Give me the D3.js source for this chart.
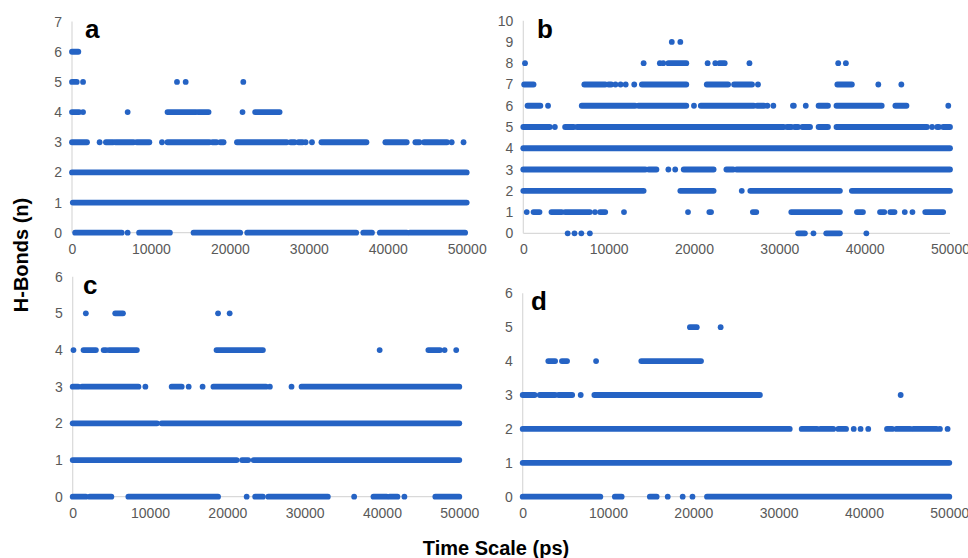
<!DOCTYPE html>
<html>
<head>
<meta charset="utf-8">
<script src="https://cdn.jsdelivr.net/npm/d3@7/dist/d3.min.js"></script>
<style>
  html, body { margin: 0; padding: 0; background: #fff; }
  svg { display: block; }
</style>
</head>
<body>
<svg id="chart" width="968" height="558"></svg>
<script>
// ---------------- DATA ----------------
// Each entry: [H-bond count, run start (ps), run end (ps)]; start == end is a single frame.
const xTicks = [0, 10000, 20000, 30000, 40000, 50000];
const yTicksA = [0, 1, 2, 3, 4, 5, 6, 7];
const yTicksB = [0, 1, 2, 3, 4, 5, 6, 7, 8, 9, 10];
const yTicksC = [0, 1, 2, 3, 4, 5, 6];
const yTicksD = [0, 1, 2, 3, 4, 5, 6];
const panelLabels = ["a", "b", "c", "d"];

const runsA = [
  [6, 0, 800],
  [5, 0, 600], [5, 1400, 1400], [5, 13300, 13300], [5, 14400, 14400], [5, 21700, 21700],
  [4, 0, 900], [4, 1400, 1400], [4, 7050, 7050], [4, 12100, 15700], [4, 16000, 17300],
  [4, 21600, 21600], [4, 23200, 26300],
  [3, 0, 1900], [3, 3500, 3500], [3, 4300, 5200], [3, 5500, 7800], [3, 8200, 9800],
  [3, 11400, 11400], [3, 12100, 17400], [3, 17800, 18300], [3, 18800, 19200],
  [3, 20900, 27200], [3, 27700, 28200], [3, 28700, 29200], [3, 29600, 29600], [3, 30400, 30400],
  [3, 31600, 37300], [3, 39700, 42400], [3, 43500, 44000], [3, 44600, 47500],
  [3, 48100, 48100], [3, 49600, 49600],
  [2, 0, 50000],
  [1, 100, 50000],
  [0, 400, 6300], [0, 7050, 7050], [0, 8500, 12400], [0, 15400, 21300], [0, 22200, 36000],
  [0, 36900, 38000], [0, 39000, 42400], [0, 42800, 49800]
];

const runsB = [
  [9, 17400, 17400], [9, 18400, 18400],
  [8, 200, 200], [8, 14100, 14100], [8, 16000, 16000], [8, 16400, 16400], [8, 17000, 19100],
  [8, 21600, 21600], [8, 22500, 22500], [8, 23000, 23600], [8, 26500, 26500],
  [8, 36900, 36900], [8, 37800, 37800],
  [7, 100, 1200], [7, 7150, 9600], [7, 10000, 10300], [7, 10800, 10800], [7, 11400, 11400],
  [7, 12000, 12000], [7, 13000, 13000], [7, 13900, 19100], [7, 21500, 24000],
  [7, 24700, 26800], [7, 27500, 27500], [7, 36800, 38500], [7, 41600, 41600], [7, 44300, 44300],
  [6, 500, 2000], [6, 2900, 2900], [6, 6850, 13100], [6, 13500, 19100], [6, 20000, 20000],
  [6, 20800, 27000], [6, 27400, 28200], [6, 28600, 28600], [6, 29300, 29300],
  [6, 31600, 31700], [6, 33100, 33100], [6, 34600, 35700], [6, 36700, 42000],
  [6, 43600, 44900], [6, 49800, 49800],
  [5, 0, 3100], [5, 3700, 3700], [5, 4900, 5900], [5, 6300, 30500], [5, 30900, 31400],
  [5, 31800, 32200], [5, 32700, 33600], [5, 34600, 35700], [5, 36700, 47300],
  [5, 47900, 47900], [5, 48500, 48700], [5, 49200, 50000],
  [4, 0, 50000],
  [3, 0, 14300], [3, 14700, 15600], [3, 17000, 17000], [3, 17800, 17800], [3, 18800, 22300],
  [3, 23800, 24600], [3, 25000, 50000],
  [2, 0, 14100], [2, 18400, 22300], [2, 25600, 25600], [2, 26600, 37100], [2, 38500, 50000],
  [1, 400, 400], [1, 1200, 1900], [1, 3300, 4500], [1, 4900, 7800], [1, 8400, 8400],
  [1, 9000, 9600], [1, 11800, 11800], [1, 19300, 19300], [1, 21800, 22000],
  [1, 26900, 27300], [1, 31400, 37100], [1, 39100, 39800], [1, 41800, 42300],
  [1, 43000, 43500], [1, 44700, 44700], [1, 45600, 45600], [1, 47100, 49200],
  [0, 5200, 5200], [0, 6000, 6000], [0, 6800, 6800], [0, 7800, 7800],
  [0, 32200, 33000], [0, 34000, 34000], [0, 35500, 37100], [0, 40200, 40200]
];

const runsC = [
  [5, 1700, 1700], [5, 5500, 6500], [5, 18800, 18800], [5, 20300, 20300],
  [4, 100, 100], [4, 1400, 3000], [4, 4000, 4300], [4, 4700, 8300], [4, 18600, 24600],
  [4, 39700, 39700], [4, 46000, 47500], [4, 48100, 48100], [4, 49600, 49600],
  [3, 0, 700], [3, 1200, 8500], [3, 9400, 9400], [3, 12800, 14100], [3, 15000, 15000],
  [3, 16800, 16800], [3, 18200, 25000], [3, 25500, 25500], [3, 28300, 28300], [3, 29600, 50000],
  [2, 0, 10900], [2, 11500, 50000],
  [1, 0, 21200], [1, 21900, 22700], [1, 23400, 50000],
  [0, 0, 1700], [0, 2200, 5000], [0, 7200, 18800], [0, 22500, 22500], [0, 23600, 24600],
  [0, 25300, 33000], [0, 36400, 36400], [0, 38900, 40600], [0, 41000, 42000],
  [0, 42900, 42900], [0, 46900, 50000]
];

const runsD = [
  [5, 19600, 20400], [5, 23200, 23200],
  [4, 3000, 3800], [4, 4600, 5200], [4, 8600, 8600], [4, 13900, 20900],
  [3, 0, 1400], [3, 2000, 3800], [3, 4200, 5800], [3, 6800, 6800], [3, 8400, 27800],
  [3, 44300, 44300],
  [2, 0, 31300], [2, 32700, 34500], [2, 34900, 36400], [2, 37000, 37900], [2, 38800, 38800],
  [2, 39600, 39600], [2, 40500, 40500], [2, 42700, 43300], [2, 43800, 45400],
  [2, 45800, 48500], [2, 48900, 48900], [2, 49800, 49800],
  [1, 0, 50000],
  [0, 0, 9100], [0, 10800, 11600], [0, 14900, 15700], [0, 17000, 17000], [0, 18750, 18750],
  [0, 19900, 19900], [0, 21600, 50000]
];

// ---------------- LAYOUT ----------------
const panels = [
  { runs: runsA, yTicks: yTicksA, yMax: 7,  left: 72,    right: 466.7, top: 21.6,  bottom: 232.7, lx: 85,  ly: 38 },
  { runs: runsB, yTicks: yTicksB, yMax: 10, left: 523.3, right: 950,   top: 20.7,  bottom: 233.3, lx: 537, ly: 38 },
  { runs: runsC, yTicks: yTicksC, yMax: 6,  left: 72.7,  right: 459.3, top: 276.7, bottom: 496.7, lx: 83,  ly: 294 },
  { runs: runsD, yTicks: yTicksD, yMax: 6,  left: 522.7, right: 949.3, top: 293.3, bottom: 496.7, lx: 531, ly: 310 }
];

const dotColor = "#2563c4";
const dotR = 2.9;
const tickColor = "#595959";
const axisColor = "#d9d9d9";
const font = "'Liberation Sans', Arial, sans-serif";

const svg = d3.select("#chart");

panels.forEach((p, i) => {
  const x = d3.scaleLinear().domain([0, 50000]).range([p.left, p.right]);
  const y = d3.scaleLinear().domain([0, p.yMax]).range([p.bottom, p.top]);
  const g = svg.append("g");

  // x axis (baseline + labels)
  const xAxis = d3.axisBottom(x).tickValues(xTicks).tickSize(0).tickPadding(11).tickFormat(d3.format("d"));
  const gx = g.append("g").attr("transform", `translate(0,${p.bottom})`).call(xAxis);
  gx.select(".domain").attr("stroke", axisColor).attr("stroke-width", 1.2)
    .attr("d", `M${p.left},0H${p.right}`);
  gx.selectAll("text").attr("fill", tickColor).style("font-family", font).style("font-size", "14px");

  // y axis
  const yAxis = d3.axisLeft(y).tickValues(p.yTicks).tickSize(0).tickPadding(10).tickFormat(d3.format("d"));
  const gy = g.append("g").attr("transform", `translate(${p.left},0)`).call(yAxis);
  gy.select(".domain").attr("stroke", axisColor).attr("stroke-width", 1.2)
    .attr("d", `M0,${p.top}V${p.bottom}`);
  gy.selectAll("text").attr("fill", tickColor).style("font-family", font).style("font-size", "14px");

  // runs of consecutive frames
  const lines = p.runs.filter(r => r[2] > r[1]);
  const singles = p.runs.filter(r => r[2] <= r[1]);
  g.append("g").selectAll("line").data(lines).join("line")
    .attr("x1", d => x(d[1])).attr("x2", d => x(d[2]))
    .attr("y1", d => y(d[0])).attr("y2", d => y(d[0]))
    .attr("stroke", dotColor).attr("stroke-width", dotR * 2).attr("stroke-linecap", "round");
  g.append("g").selectAll("circle").data(singles).join("circle")
    .attr("cx", d => x(d[1])).attr("cy", d => y(d[0])).attr("r", dotR)
    .attr("fill", dotColor);

  // panel letter
  g.append("text").attr("x", p.lx).attr("y", p.ly).text(panelLabels[i])
    .attr("fill", "#000").style("font-family", font).style("font-weight", "bold").style("font-size", "26px");
});

// axis titles
svg.append("text").attr("transform", "translate(28,255) rotate(-90)")
  .attr("text-anchor", "middle").text("H-Bonds (n)")
  .style("font-family", font).style("font-weight", "bold").style("font-size", "20px").attr("fill", "#000");
svg.append("text").attr("x", 496).attr("y", 555)
  .attr("text-anchor", "middle").text("Time Scale (ps)")
  .style("font-family", font).style("font-weight", "bold").style("font-size", "20px").attr("fill", "#000");
</script>
</body>
</html>
